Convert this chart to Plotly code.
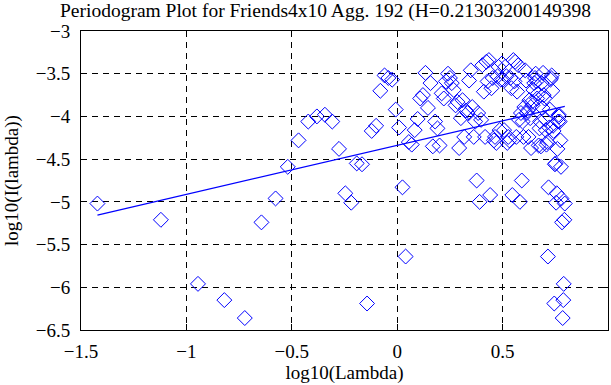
import plotly.graph_objects as go

# log10 of frequency (x) and log10 of periodogram (y)
log_lambda = [
    -1.422, -1.121, -0.945, -0.820, -0.723, -0.644, -0.577, -0.519, -0.468, -0.422,
    -0.381, -0.343, -0.308, -0.276, -0.246, -0.218, -0.192, -0.167, -0.143, -0.121,
    -0.100, -0.080, -0.060, -0.042, -0.024, -0.007, 0.009, 0.025, 0.040, 0.055,
    0.069, 0.083, 0.097, 0.109, 0.122, 0.134, 0.146, 0.158, 0.169, 0.180,
    0.191, 0.201, 0.211, 0.221, 0.231, 0.241, 0.250, 0.259, 0.268, 0.277,
    0.286, 0.294, 0.302, 0.310, 0.318, 0.326, 0.334, 0.341, 0.349, 0.356,
    0.363, 0.370, 0.377, 0.384, 0.391, 0.398, 0.404, 0.411, 0.417, 0.423,
    0.429, 0.435, 0.441, 0.447, 0.453, 0.459, 0.464, 0.470, 0.476, 0.481,
    0.486, 0.492, 0.497, 0.502, 0.507, 0.512, 0.518, 0.522, 0.527, 0.532,
    0.537, 0.542, 0.546, 0.551, 0.556, 0.560, 0.565, 0.569, 0.574, 0.578,
    0.582, 0.587, 0.591, 0.595, 0.599, 0.603, 0.607, 0.611, 0.615, 0.619,
    0.623, 0.627, 0.631, 0.635, 0.639, 0.642, 0.646, 0.650, 0.654, 0.657,
    0.661, 0.664, 0.668, 0.671, 0.675, 0.678, 0.682, 0.685, 0.689, 0.692,
    0.695, 0.699, 0.702, 0.705, 0.708, 0.712, 0.715, 0.718, 0.721, 0.724,
    0.727, 0.730, 0.733, 0.736, 0.739, 0.742, 0.745, 0.748, 0.751, 0.754,
    0.757, 0.760, 0.763, 0.766, 0.768, 0.771, 0.774, 0.777, 0.779, 0.782,
    0.785, 0.788, 0.790, 0.793, 0.795,
]

log_I = [
    -5.02, -5.21, -5.96, -6.15, -6.36, -5.24, -4.96, -4.59, -4.28, -4.06,
    -4.00, -3.98, -4.06, -4.38, -4.90, -5.01, -4.55, -4.56, -6.19, -4.17,
    -4.11, -3.70, -3.52, -3.55, -3.57, -3.92, -4.13, -4.83, -5.64, -4.30,
    -4.33, -4.16, -4.03, -3.79, -3.75, -3.49, -3.90, -3.61, -4.35, -4.06,
    -4.14, -4.34, -3.73, -3.79, -3.59, -3.50, -3.55, -3.61, -3.69, -3.87,
    -3.83, -4.37, -4.02, -3.81, -4.24, -3.93, -3.96, -3.58, -3.46, -3.89,
    -4.24, -4.06, -4.75, -3.96, -5.00, -4.04, -3.40, -3.71, -4.24, -3.36,
    -3.59, -3.34, -4.92, -3.67, -3.55, -4.28, -4.24, -4.31, -3.53, -3.42,
    -4.16, -3.57, -3.38, -3.57, -4.16, -3.42, -3.53, -4.31, -4.24, -4.28,
    -3.55, -3.67, -4.92, -3.34, -3.59, -3.36, -4.24, -3.71, -3.40, -4.04,
    -5.00, -3.96, -4.75, -4.06, -4.24, -3.89, -3.46, -3.58, -3.96, -3.93,
    -4.24, -3.81, -4.02, -4.37, -3.83, -3.87, -3.69, -3.61, -3.55, -3.50,
    -3.59, -3.79, -3.73, -4.34, -4.14, -4.06, -4.35, -3.61, -3.90, -3.49,
    -3.75, -3.79, -4.03, -4.16, -4.33, -4.30, -5.64, -4.83, -4.13, -3.92,
    -3.57, -3.55, -3.52, -3.70, -4.11, -4.17, -6.19, -4.56, -4.55, -5.01,
    -4.90, -4.38, -4.06, -3.98, -4.00, -4.06, -4.28, -4.59, -4.96, -5.24,
    -6.36, -6.15, -5.96, -5.21, -5.02,
]

# least-squares fit line end points
fit_x = [-1.422, 0.795]
fit_y = [-5.155, -3.882]

x_ticks = [-1.5, -1, -0.5, 0, 0.5, 1]
y_ticks = [-3, -3.5, -4, -4.5, -5, -5.5, -6, -6.5]

title_text = "Periodogram Plot for Friends4x10 Agg. 192 (H=0.21303200149398"

FONT = "Liberation Serif, Times New Roman, serif"
FS = 19

fig = go.Figure()
fig.add_trace(go.Scatter(
    x=log_lambda, y=log_I, mode="markers",
    marker=dict(symbol="diamond-open", size=11.5, color="#0000ff",
                line=dict(color="#0000ff", width=1)),
    showlegend=False, hoverinfo="skip",
))
fig.add_trace(go.Scatter(
    x=fit_x, y=fit_y, mode="lines",
    line=dict(color="#0000ff", width=1.2),
    showlegend=False, hoverinfo="skip",
))

axis_common = dict(
    showline=True, linecolor="black", linewidth=1, mirror="ticks",
    ticks="inside", ticklen=6, tickcolor="black", tickwidth=1,
    showgrid=True, gridcolor="black", gridwidth=1, griddash="6px,5px",
    zeroline=False, automargin=False,
    tickfont=dict(family=FONT, size=FS, color="black"),
)

fig.update_xaxes(
    range=[-1.5, 1], tickvals=x_ticks, ticklabelstandoff=4,
    title=dict(text="log10(Lambda)", font=dict(family=FONT, size=FS, color="black"), standoff=2),
    **axis_common,
)
fig.update_yaxes(
    range=[-6.5, -3], tickvals=y_ticks, ticklabelstandoff=6,
    title=dict(text="log10(I(lambda))", font=dict(family=FONT, size=FS, color="black"), standoff=12),
    **axis_common,
)

fig.update_layout(
    width=611, height=385,
    margin=dict(l=81, r=3, t=31, b=55),
    paper_bgcolor="white", plot_bgcolor="white",
    font=dict(family=FONT, size=FS, color="black"),
    title=dict(text=title_text, x=60 / 611, xanchor="left", xref="container",
               y=1 - 3 / 385, yanchor="top", yref="container",
               font=dict(family=FONT, size=19.5, color="black")),
)

fig.write_html("out.html", config={"displayModeBar": False},
               post_script="document.body.style.margin='0';")
